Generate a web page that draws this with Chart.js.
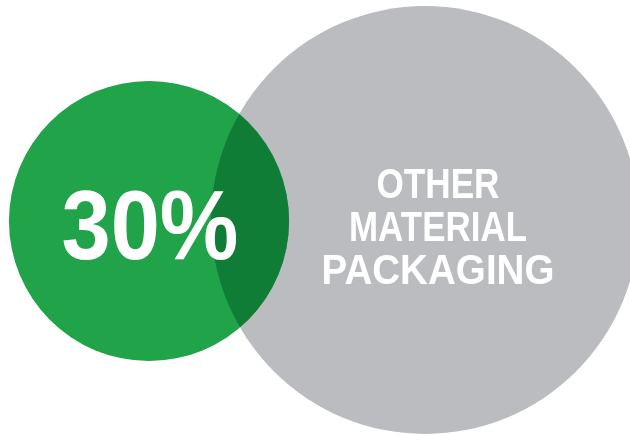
<!DOCTYPE html>
<html>
<head>
<meta charset="utf-8">
<script src="https://cdn.jsdelivr.net/npm/chart.js@4.4.1/dist/chart.umd.min.js"></script>
<style>
  html, body { margin: 0; padding: 0; background: #fff; }
  #wrap { width: 630px; height: 435px; position: relative; }
</style>
</head>
<body>
<div id="wrap"><canvas id="venn"></canvas></div>
<script>
// ===== 数据 =====
var labels = ['30%', 'OTHER MATERIAL PACKAGING'];
var shares = [30, 70];
var centerX = [149, 425];
var centerY = [221, 220];

var COLORS = ['#21a34a', '#bbbcc0'];
var OVERLAP_COLOR = '#107d36';
var RADIUS_PER_SQRT = 25.57;   // 面积与份额成正比

// 每个文字行：文本、相对圆心偏移、字号、目标宽度
var pctLines = [{ text: labels[0], dx: 1, dy: 38, size: 98, width: 177 }];
var otherLines = [
  { text: 'OTHER', dx: 13, dy: -22, size: 43, width: 123 },
  { text: 'MATERIAL', dx: 13, dy: 21, size: 43, width: 178 },
  { text: 'PACKAGING', dx: 13, dy: 64, size: 43, width: 233 }
];

function bubbleData(i) {
  return [{ x: centerX[i], y: centerY[i], r: RADIUS_PER_SQRT * Math.sqrt(shares[i]) }];
}

// 按目标宽度横向压缩绘制
function drawFitted(ctx, line, cx, cy) {
  ctx.save();
  ctx.font = 'bold ' + line.size + 'px "Liberation Sans", Arial, sans-serif';
  var w = ctx.measureText(line.text).width;
  ctx.translate(cx + line.dx, cy + line.dy);
  ctx.scale(line.width / w, 1);
  ctx.textAlign = 'center';
  ctx.textBaseline = 'alphabetic';
  ctx.fillStyle = '#ffffff';
  ctx.fillText(line.text, 0, 0);
  ctx.restore();
}

var vennPlugin = {
  id: 'vennOverlay',
  afterDatasetsDraw: function(chart) {
    var ctx = chart.ctx;
    var green = chart.getDatasetMeta(0).data[0];
    var gray = chart.getDatasetMeta(1).data[0];
    var gr = green.options.radius;
    var yr = gray.options.radius;

    // 交集区域
    ctx.save();
    ctx.beginPath();
    ctx.arc(green.x, green.y, gr, 0, Math.PI * 2);
    ctx.clip();
    ctx.beginPath();
    ctx.arc(gray.x, gray.y, yr, 0, Math.PI * 2);
    ctx.fillStyle = OVERLAP_COLOR;
    ctx.fill();
    ctx.restore();

    pctLines.forEach(function(l) { drawFitted(ctx, l, green.x, green.y); });
    otherLines.forEach(function(l) { drawFitted(ctx, l, gray.x, gray.y); });
  }
};

new Chart(document.getElementById('venn'), {
  type: 'bubble',
  data: {
    datasets: [
      { label: labels[0], data: bubbleData(0), backgroundColor: COLORS[0], borderWidth: 0, hoverBorderWidth: 0 },
      { label: labels[1], data: bubbleData(1), backgroundColor: COLORS[1], borderWidth: 0, hoverBorderWidth: 0 }
    ]
  },
  options: {
    responsive: true,
    maintainAspectRatio: false,
    animation: false,
    events: [],
    layout: { padding: 0, autoPadding: false },
    plugins: { legend: { display: false }, tooltip: { enabled: false } },
    scales: {
      x: { display: false, min: 0, max: 630 },
      y: { display: false, min: 0, max: 435, reverse: true }
    }
  },
  plugins: [vennPlugin]
});
</script>
</body>
</html>
